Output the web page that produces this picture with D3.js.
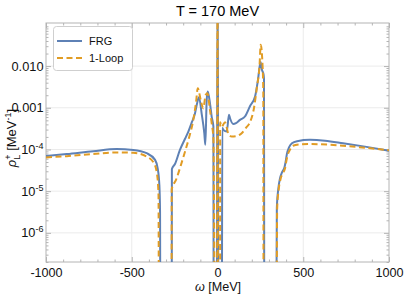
<!DOCTYPE html>
<html><head><meta charset="utf-8">
<script src="https://cdn.jsdelivr.net/npm/d3@7"></script>
<style>body{margin:0;background:#fff}svg{display:block}text{font-family:"Liberation Sans",Arial,sans-serif}</style>
</head><body><svg id="c" width="415" height="294"></svg>
<script>
const title = "T = 170 MeV";
const xTicks = [-1000, -500, 0, 500, 1000];
const xGrid = [-500, 0, 500];
const yTicks = [0.01, 0.001, 1e-4, 1e-5, 1e-6];
const yTickBase = ["0.010", "0.001", "10", "10", "10"];
const yTickExp = ["", "", "-4", "-5", "-6"];
const seriesNames = ["FRG", "1-Loop"];
const seriesColors = ["#5E81B5", "#E19C24"];

const frgOmega = [-1000,-879,-724,-588,-491,-413,-364,-349,-339,-335,-333,
  -267,-266,-248,-219,-190,-170,-149,-131,-120,-108,-92,-77,-71,-63,-57,-44,-34,-24,-22,
  -4,-0.5,2,5,25,28,34,54,67,73,92,108,131,160,190,219,236,251,259,268,271,273,
  342,346,355,364,376,391,397,405,417,434,464,539,627,732,860,1000];
const frgRho = [6.98e-5,7.76e-5,9.12e-5,1.02e-4,9.77e-5,8.13e-5,5.62e-5,3.55e-5,1.41e-5,3.24e-6,1e-9,
  1e-9,3.39e-5,4.47e-5,9.77e-5,1.78e-4,2.69e-4,4.57e-4,7.41e-4,1.23e-3,1.78e-3,7.08e-4,2.45e-4,1.29e-4,1.55e-3,2.45e-3,1.29e-3,6.17e-4,3.55e-4,1e-9,
  1e-9,1,1,1e-9,1e-9,3.31e-4,2.95e-4,2.69e-4,6.76e-4,5.62e-4,4.07e-4,4.27e-4,5.13e-4,6.17e-4,1.10e-3,1.86e-3,4.68e-3,1.26e-2,8.13e-3,6.46e-3,5.01e-3,1e-9,
  1e-9,3.98e-6,1.17e-5,2.00e-5,2.82e-5,3.80e-5,5.01e-5,7.94e-5,1.12e-4,1.41e-4,1.58e-4,1.70e-4,1.62e-4,1.41e-4,1.17e-4,9.33e-5];

const loopOmega = [-1000,-879,-724,-588,-491,-413,-370,-352,-344,-341,
  -268,-267,-242,-213,-190,-166,-141,-125,-115,-98,-83,-69,-59,-44,-34,-24,-14,
  -3,0,3,15,15.5,24,44,63,83,108,141,166,190,213,230,245,252,263,267,269,
  343,348,357,367,379,394,399,408,423,440,481,539,732,860,1000];
const loopRho = [6.46e-5,6.92e-5,7.76e-5,8.51e-5,8.32e-5,6.76e-5,4.68e-5,2.45e-5,8.13e-6,1e-9,
  1e-9,1.12e-5,1.86e-5,4.27e-5,8.71e-5,1.91e-4,5.13e-4,1.38e-3,2.95e-3,1.55e-3,9.77e-4,2.04e-3,2.24e-3,8.91e-4,4.27e-4,1.86e-4,1e-9,
  1e-9,1,1e-9,1e-9,4.47e-4,3.55e-4,4.47e-4,2.40e-4,2.04e-4,2.09e-4,2.45e-4,3.31e-4,4.57e-4,1.00e-3,3.16e-3,1.0e-2,3.24e-2,9.77e-3,2.51e-3,1e-9,
  1e-9,3.98e-6,1.12e-5,1.91e-5,2.63e-5,3.55e-5,4.68e-5,7.08e-5,1.0e-4,1.23e-4,1.32e-4,1.35e-4,1.23e-4,1.10e-4,9.55e-5];

const svg = d3.select("#c");
const L = 46, R = 389, T = 23, B = 262;
const x = d3.scaleLinear().domain([-1000, 1000]).range([L, R]);
const y = d3.scaleLog().domain([2e-7, 0.108]).range([B, T]);
const frameCol = "#b4b4b4";

// grid
svg.append("g").selectAll("line").data(xGrid).join("line")
  .attr("x1", d => x(d)).attr("x2", d => x(d)).attr("y1", T).attr("y2", B)
  .attr("stroke", "#ebebeb").attr("stroke-width", 1);
svg.append("g").selectAll("line").data(yTicks).join("line")
  .attr("x1", L).attr("x2", R).attr("y1", d => y(d)).attr("y2", d => y(d))
  .attr("stroke", "#ebebeb").attr("stroke-width", 1);

// minor tick values
const xMinor = d3.range(-1000, 1001, 100).filter(v => v % 500 !== 0);
const yMinor = [];
for (let e = -7; e <= -1; e++) for (let k = 2; k <= 9; k++) {
  const v = k * Math.pow(10, e);
  if (v >= 2e-7 && v <= 0.108) yMinor.push(v);
}

function styleAxis(g) {
  g.select(".domain").remove();
  g.selectAll("line").attr("stroke", frameCol);
}
// bottom
const gb = svg.append("g").attr("transform", `translate(0,${B})`)
  .call(d3.axisBottom(x).tickValues(xTicks).tickSizeInner(-5).tickSizeOuter(0).tickFormat(d => String(d)));
styleAxis(gb);
gb.selectAll("text").attr("y", 14.5).attr("dy", 0).attr("font-size", 12.6).attr("fill", "#111")
  .attr("font-family", '"Liberation Sans",Arial,sans-serif');
styleAxis(svg.append("g").attr("transform", `translate(0,${B})`)
  .call(d3.axisBottom(x).tickValues(xMinor).tickSizeInner(-2.5).tickSizeOuter(0).tickFormat("")));
// top
styleAxis(svg.append("g").attr("transform", `translate(0,${T})`)
  .call(d3.axisTop(x).tickValues(xTicks).tickSizeInner(-5).tickSizeOuter(0).tickFormat("")));
styleAxis(svg.append("g").attr("transform", `translate(0,${T})`)
  .call(d3.axisTop(x).tickValues(xMinor).tickSizeInner(-2.5).tickSizeOuter(0).tickFormat("")));
// left
const gl = svg.append("g").attr("transform", `translate(${L},0)`)
  .call(d3.axisLeft(y).tickValues(yTicks).tickSizeInner(-5).tickSizeOuter(0).tickFormat(""));
styleAxis(gl);
styleAxis(svg.append("g").attr("transform", `translate(${L},0)`)
  .call(d3.axisLeft(y).tickValues(yMinor).tickSizeInner(-2.5).tickSizeOuter(0).tickFormat("")));
// right
styleAxis(svg.append("g").attr("transform", `translate(${R},0)`)
  .call(d3.axisRight(y).tickValues(yTicks).tickSizeInner(-5).tickSizeOuter(0).tickFormat("")));
styleAxis(svg.append("g").attr("transform", `translate(${R},0)`)
  .call(d3.axisRight(y).tickValues(yMinor).tickSizeInner(-2.5).tickSizeOuter(0).tickFormat("")));

// y tick labels
const yl = svg.append("g");
yTicks.forEach((v, i) => {
  const t = yl.append("text").attr("x", 43.5).attr("y", y(v) + 4.5)
    .attr("text-anchor", "end").attr("font-size", 12.8).attr("fill", "#111");
  t.append("tspan").text(yTickBase[i]);
  if (yTickExp[i]) t.append("tspan").attr("font-size", 9).attr("dy", -5).text(yTickExp[i]);
});

// frame
svg.append("rect").attr("x", L).attr("y", T).attr("width", R - L).attr("height", B - T)
  .attr("fill", "none").attr("stroke", frameCol).attr("stroke-width", 1);

// curves
svg.append("clipPath").attr("id", "clip").append("rect")
  .attr("x", L).attr("y", T).attr("width", R - L).attr("height", B - T);
const line = d3.line().x(d => x(d[0])).y(d => y(d[1])).curve(d3.curveMonotoneX);
const frgData = frgOmega.map((w, i) => [w, frgRho[i]]);
const loopData = loopOmega.map((w, i) => [w, loopRho[i]]);
const cg = svg.append("g").attr("clip-path", "url(#clip)");
cg.append("path").attr("d", line(frgData)).attr("fill", "none")
  .attr("stroke", seriesColors[0]).attr("stroke-width", 2).attr("stroke-linejoin", "round");
cg.append("path").attr("d", line(loopData)).attr("fill", "none")
  .attr("stroke", seriesColors[1]).attr("stroke-width", 2).attr("stroke-dasharray", "6,3.5");

// title
svg.append("text").attr("x", 217.5).attr("y", 16).attr("text-anchor", "middle")
  .attr("font-size", 14.5).attr("fill", "#000").text(title);

// x label
const xl = svg.append("text").attr("x", 218).attr("y", 291).attr("text-anchor", "middle")
  .attr("font-size", 12.6).attr("fill", "#111");
xl.append("tspan").attr("font-style", "italic").text("ω");
xl.append("tspan").text(" [MeV]");

// y label
const ylab = svg.append("text").attr("transform", "translate(16,138) rotate(-90)")
  .attr("text-anchor", "middle").attr("font-size", 13).attr("fill", "#111");
ylab.append("tspan").attr("font-style", "italic").text("ρ");
ylab.append("tspan").attr("font-size", 9).attr("dy", 3.5).text("L");
ylab.append("tspan").attr("font-size", 9).attr("dx", -5).attr("dy", -8.5).text("+");
ylab.append("tspan").attr("dy", 5).text(" [MeV");
ylab.append("tspan").attr("font-size", 9).attr("dy", -5).text("-1");
ylab.append("tspan").attr("dy", 5).text("]");

// legend
const lg = svg.append("g");
lg.append("rect").attr("x", 53.5).attr("y", 26.5).attr("width", 79).attr("height", 44)
  .attr("rx", 3).attr("fill", "#fff").attr("stroke", "#cfcfcf");
seriesNames.forEach((n, i) => {
  const yy = 41 + i * 17;
  lg.append("line").attr("x1", 57).attr("x2", 82).attr("y1", yy).attr("y2", yy)
    .attr("stroke", seriesColors[i]).attr("stroke-width", 2)
    .attr("stroke-dasharray", i === 1 ? "6,3.5" : null);
  lg.append("text").attr("x", 89).attr("y", yy + 4).attr("font-size", 11).attr("fill", "#111").text(n);
});
</script></body></html>
